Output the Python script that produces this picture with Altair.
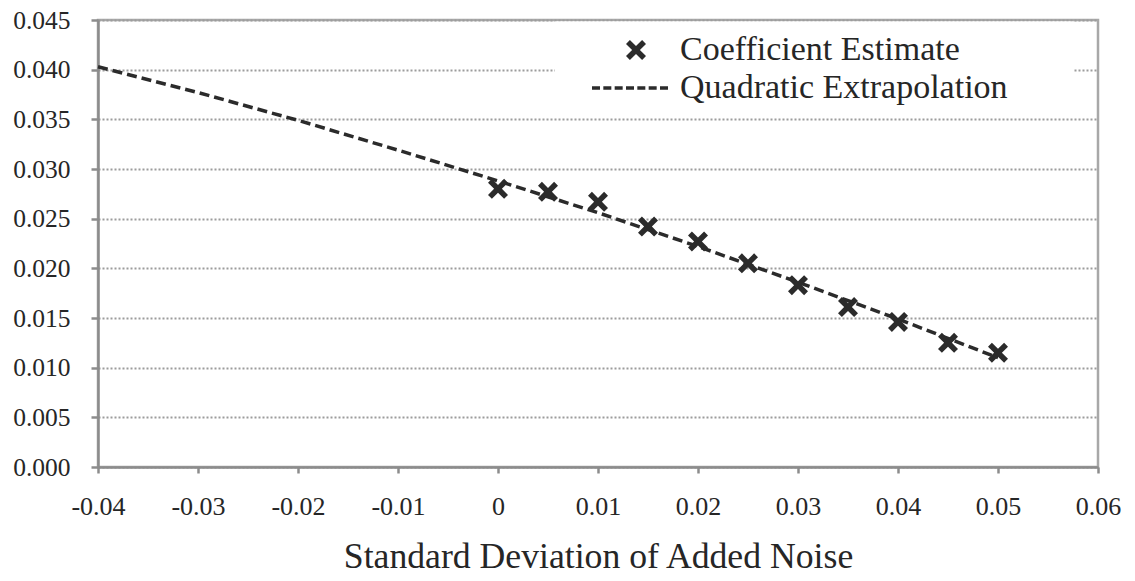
import altair as alt
import pandas as pd

# ---- data ----
noise_levels = [0.000, 0.005, 0.010, 0.015, 0.020, 0.025, 0.030, 0.035, 0.040, 0.045, 0.050]
coef_estimates = [0.0280, 0.0277, 0.0267, 0.0242, 0.0227, 0.0205, 0.0183, 0.0161, 0.0146, 0.0125, 0.0115]

fit_noise = [-0.04, -0.03, -0.02, -0.01, 0.00, 0.01, 0.02, 0.03, 0.04, 0.05]
fit_values = [0.0403, 0.0377, 0.0349, 0.0319, 0.0288, 0.0256, 0.0222, 0.0186, 0.0149, 0.0110]

series_names = ["Coefficient Estimate", "Quadratic Extrapolation"]
x_tick_values = [-0.04, -0.03, -0.02, -0.01, 0.0, 0.01, 0.02, 0.03, 0.04, 0.05, 0.06]
y_tick_values = [0.0, 0.005, 0.010, 0.015, 0.020, 0.025, 0.030, 0.035, 0.040, 0.045]
x_title = "Standard Deviation of Added Noise"

# ---- styles ----
FONT = "Liberation Serif"
DARK = "#2b2b2b"
TEXT = "#262626"
AXIS_GRAY = "#8c8c8c"
BORDER_GRAY = "#a8a8a8"
GRID_GRAY = "#9c9c9c"

# filled "x" marker (unit = 10 px at size 400)
X_PATH = ("M-1,-0.61L-0.61,-1L0,-0.39L0.61,-1L1,-0.61L0.39,0L1,0.61L0.61,1"
          "L0,0.39L-0.61,1L-1,0.61L-0.39,0Z")
# legend sample of the dashed line, drawn as filled dashes
_dash_starts = [-4.4, -3.267, -2.133, -1.0, 0.133, 1.267, 2.4]
DASH_PATH = "".join(
    f"M{s:.3f},-0.17H{s + 0.8:.3f}V0.17H{s:.3f}Z" for s in _dash_starts
) + "M42.5,0"

points_df = pd.DataFrame({"noise": noise_levels, "value": coef_estimates,
                          "series": [series_names[0]] * len(noise_levels)})
fit_df = pd.DataFrame({"noise": fit_noise, "value": fit_values})

x_scale = alt.Scale(domain=[-0.04, 0.06], nice=False, zero=False)
y_scale = alt.Scale(domain=[0, 0.045], nice=False)

x_axis = alt.Axis(values=x_tick_values, labelExpr="toString(datum.value)", title=x_title,
                  grid=False, tickSize=6, labelPadding=20, titlePadding=20,
                  labelFlush=False, labelOverlap=False, labelFontSize=26,
                  titleFontSize=35.7, titleFontWeight="normal")
y_axis = alt.Axis(values=y_tick_values, format=".3f", title=None, grid=True,
                  gridDash=[2, 2], gridColor=GRID_GRAY, gridWidth=2,
                  tickSize=7, labelPadding=21, labelFlush=False, labelOverlap=False,
                  labelFontSize=25.5)

line = alt.Chart(fit_df).mark_line(color=DARK, strokeWidth=3.5, strokeDash=[10, 5]).encode(
    x=alt.X("noise:Q", scale=x_scale, axis=x_axis),
    y=alt.Y("value:Q", scale=y_scale, axis=y_axis),
)

points = alt.Chart(points_df).mark_point(
    filled=True, fill=DARK, strokeWidth=0, size=400, opacity=1
).encode(
    x=alt.X("noise:Q", scale=x_scale),
    y=alt.Y("value:Q", scale=y_scale),
    shape=alt.Shape(
        "series:N",
        scale=alt.Scale(domain=series_names, range=[X_PATH, DASH_PATH]),
        legend=alt.Legend(
            title=None, orient="none", legendX=457, legendY=1.5, padding=11.5,
            fillColor="white", symbolSize=400, symbolFillColor=DARK,
            symbolStrokeWidth=0, symbolOpacity=1,
            symbolOffset=52.5, labelOffset=27, rowPadding=4,
            labelFont=FONT, labelFontSize=34, labelColor=TEXT, labelLimit=600,
        ),
    ),
)

chart = alt.layer(line, points).properties(
    width=1000, height=447,
    autosize=alt.AutoSizeParams(type="none"),
    padding={"left": 90, "top": 12, "right": 26, "bottom": 109},
).configure(
    font=FONT,
).configure_view(
    stroke=BORDER_GRAY, strokeWidth=2.5,
).configure_axis(
    labelFont=FONT, labelColor=TEXT,
    titleFont=FONT, titleColor=TEXT,
    domainColor=AXIS_GRAY, domainWidth=2.5,
    tickColor=AXIS_GRAY, tickWidth=2.5,
)

chart.save("out.html", embed_options={"renderer": "svg", "actions": False})
